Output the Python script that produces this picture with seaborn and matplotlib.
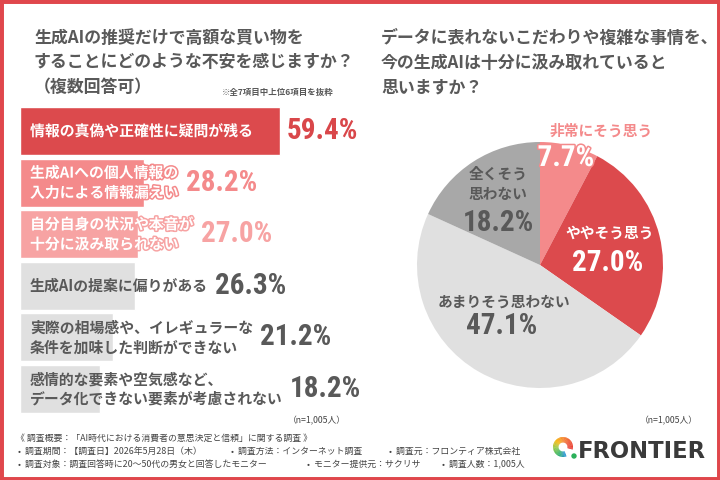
import matplotlib
matplotlib.use("Agg")
import matplotlib.pyplot as plt
import seaborn as sns
import pandas as pd
import numpy as np
from matplotlib import patheffects as pe
from matplotlib.patches import Rectangle, Wedge, Circle
from matplotlib.colors import LinearSegmentedColormap
from matplotlib import font_manager as fm

# ---------------- data ----------------
bar_labels = [
    "情報の真偽や正確性に疑問が残る",
    "生成AIへの個人情報の\n入力による情報漏えい",
    "自分自身の状況や本音が\n十分に汲み取られない",
    "生成AIの提案に偏りがある",
    "実際の相場感や、イレギュラーな\n条件を加味した判断ができない",
    "感情的な要素や空気感など、\nデータ化できない要素が考慮されない",
]
bar_values = [59.4, 28.2, 27.0, 26.3, 21.2, 18.2]

pie_labels = ["非常にそう思う", "ややそう思う", "あまりそう思わない", "全くそう\n思わない"]
pie_values = [7.7, 27.0, 47.1, 18.2]

left_title = ["生成AIの推奨だけで高額な買い物を",
              "することにどのような不安を感じますか？",
              "（複数回答可）"]
right_title = ["データに表れないこだわりや複雑な事情を、",
               "今の生成AIは十分に汲み取れていると",
               "思いますか？"]
note_text = "※全7項目中上位6項目を抜粋"
n_text = "（n=1,005人）"

# ---------------- style ----------------
RED = "#dc4a4d"
PINK = "#f48a8b"
LPINK = "#f7a3a3"
LGRAY = "#e0e0e0"
DGRAY = "#a8a8a8"
TXT = "#595959"

bar_colors = [RED, PINK, LPINK, LGRAY, LGRAY, LGRAY]
value_colors = ["#d9474a", PINK, LPINK, TXT, TXT, TXT]
label_colors = ["white", "white", "white", TXT, TXT, TXT]
pie_colors = [PINK, RED, LGRAY, DGRAY]

sns.set_theme(style="white")
CJK = ["Noto Sans CJK JP", "DejaVu Sans"]
plt.rcParams["font.family"] = CJK

# pick a condensed face for the big numbers if one is installed
installed = {f.name for f in fm.fontManager.ttflist}
NUM = None
num_size = 19
for cand, size in [("Liberation Sans Narrow", 21), ("DejaVu Sans Condensed", 19.5),
                   ("Roboto Condensed", 21), ("Roboto", 19)]:
    if cand in installed:
        NUM, num_size = [cand, "DejaVu Sans"], size
        break
if NUM is None:
    NUM = ["DejaVu Sans"]

W, H = 720, 480
fig = plt.figure(figsize=(7.2, 4.8), dpi=100)
fig.patch.set_facecolor("white")


def fx(px):
    return px / W


def fy(py):
    return 1 - py / H


# ---------------- titles ----------------
for i, line in enumerate(left_title):
    fig.text(fx(34), fy([38, 62, 87][i]), line, fontsize=12.2, fontweight="bold",
             color=TXT, va="center", ha="left")
fig.text(fx(222), fy(92), note_text, fontsize=6.1, color=TXT, va="center", ha="left",
         fontweight="bold")
for i, line in enumerate(right_title):
    fig.text(fx(381), fy([37.5, 63, 87.5][i]), line, fontsize=12.2, fontweight="bold",
             color=TXT, va="center", ha="left")

# ---------------- bar chart ----------------
px_per_pct = 4.38
ax_w = 340
ax = fig.add_axes([fx(20), fy(414.8), fx(ax_w), 309.6 / H])
df = pd.DataFrame({"label": bar_labels, "value": bar_values})
sns.barplot(data=df, x="value", y="label", hue="label",
            palette=dict(zip(bar_labels, bar_colors)), legend=False,
            width=0.93, saturation=1, orient="h", ax=ax)
ax.set_xlim(0, ax_w / px_per_pct)
ax.set_ylim(len(bar_values) - 0.5, -0.5)
ax.axis("off")

label_texts = []
for i, (lab, val) in enumerate(zip(bar_labels, bar_values)):
    effects = None
    if label_colors[i] == "white":
        effects = [pe.withStroke(linewidth=2.2, foreground=bar_colors[i])]
    t = ax.text(10 / px_per_pct, i, lab, fontsize=10.7, fontweight="bold",
                color=label_colors[i], va="center", ha="left", linespacing=1.3,
                path_effects=effects, clip_on=False)
    label_texts.append(t)

fig.canvas.draw()
renderer = fig.canvas.get_renderer()
inv = ax.transData.inverted()
for i, (t, val) in enumerate(zip(label_texts, bar_values)):
    bb = t.get_window_extent(renderer)
    bar_end = ax.transData.transform((val, i))[0]
    x_disp = max(bb.x1, bar_end) + 7
    x_data = inv.transform((x_disp, 0))[0]
    ax.text(x_data, i, f"{val:.1f}%", fontsize=num_size, fontweight="bold",
            color=value_colors[i], va="center", ha="left", family=NUM,
            clip_on=False)

fig.text(fx(288), fy(421), n_text, fontsize=6.3, color="#444444", va="center",
         ha="left")

# ---------------- pie chart ----------------
cx, cy, r = 540, 265, 123
half = 1.25 * r
pax = fig.add_axes([fx(cx - half), fy(cy + half), fx(2 * half), 2 * half / H])
pax.pie(pie_values, colors=pie_colors, startangle=90, counterclock=False,
        radius=1, wedgeprops=dict(linewidth=0))
pax.set_xlim(-1.25, 1.25)
pax.set_ylim(-1.25, 1.25)
pax.set_aspect("equal")
pax.axis("off")

name_pos = [(0.50, 1.09), (0.57, 0.26), (-0.29, -0.30), (-0.34, 0.66)]
pct_pos = [(0.21, 0.87), (0.55, 0.02), (-0.31, -0.50), (-0.34, 0.34)]
name_colors = [PINK, "white", TXT, TXT]
pct_colors = ["white", "white", TXT, TXT]
for i, (lab, val) in enumerate(zip(pie_labels, pie_values)):
    pax.text(*name_pos[i], lab, fontsize=10.6, fontweight="bold",
             color=name_colors[i], ha="center", va="center", linespacing=1.3,
             clip_on=False)
    eff = [pe.withStroke(linewidth=2.2, foreground=PINK)] if i == 0 else None
    pax.text(*pct_pos[i], f"{val:.1f}%", fontsize=num_size, fontweight="bold",
             color=pct_colors[i], ha="center", va="center", family=NUM,
             path_effects=eff, clip_on=False)

fig.text(fx(640), fy(421), n_text, fontsize=6.3, color="#444444", va="center",
         ha="left")

# ---------------- footer ----------------
FT = "#444444"
fs = 6.4
fig.text(fx(16), fy(438), "《 調査概要：「AI時代における消費者の意思決定と信頼」に関する調査 》",
         fontsize=fs, color=FT, va="center", ha="left")
row2 = [(18, "•  調査期間：【調査日】2026年5月28日（木）"),
        (231, "•  調査方法：インターネット調査"),
        (389, "•  調査元：フロンティア株式会社")]
row3 = [(18, "•  調査対象：調査回答時に20～50代の男女と回答したモニター"),
        (307, "•  モニター提供元：サクリサ"),
        (442, "•  調査人数：1,005人")]
for x, s in row2:
    fig.text(fx(x), fy(451), s, fontsize=fs, color=FT, va="center", ha="left")
for x, s in row3:
    fig.text(fx(x), fy(464), s, fontsize=fs, color=FT, va="center", ha="left")

# logo
lcx, lcy = 563, 447
lax = fig.add_axes([fx(lcx - 16), fy(lcy + 16), fx(32), 32 / H])
lax.set_xlim(-1.6, 1.6)
lax.set_ylim(-1.6, 1.6)
lax.set_aspect("equal")
lax.axis("off")
cmap = LinearSegmentedColormap.from_list(
    "logo", ["#e8342c", "#ee4a28", "#f47a1f", "#f7b500", "#8cc63f", "#2ab05a", "#1c8fd6"])
angs = np.linspace(-15, 290, 61)
for k in range(len(angs) - 1):
    lax.add_patch(Wedge((0, 0), 1.0, angs[k], angs[k + 1] + 0.8, width=0.55,
                        color=cmap(k / (len(angs) - 2)), lw=0))
lax.add_patch(Circle((1.1, -0.9), 0.27, color="#2ab05a", lw=0))
fig.text(fx(578), fy(451), "FRONTIER", fontsize=16.3, fontweight="bold",
         color="#3a3a3a", va="center", ha="left", family=["DejaVu Sans"])

# ---------------- border ----------------
fig.add_artist(Rectangle((0, 0), 1, 1, transform=fig.transFigure, fill=False,
                         edgecolor="#e0474c", linewidth=5, zorder=10))

fig.savefig("out.png", dpi=100, facecolor="white")
